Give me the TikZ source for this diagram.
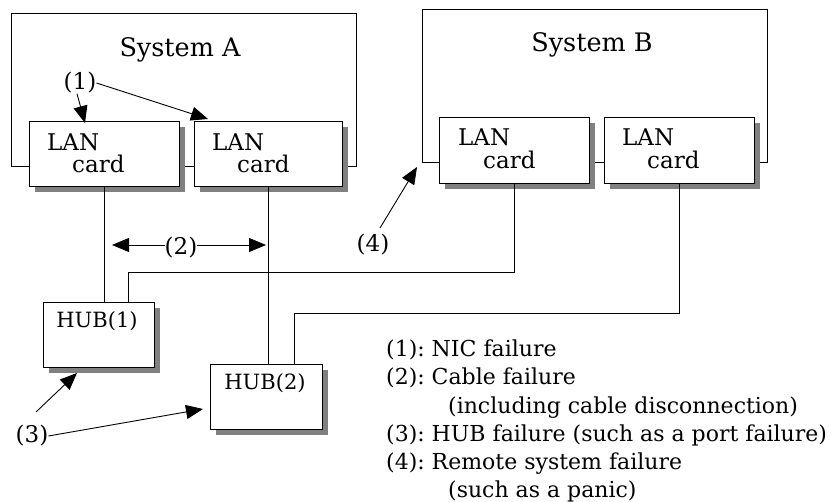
\documentclass[tikz,border=0pt]{standalone}
\usepackage{fontspec}
\setmainfont{DejaVu Serif}
\usetikzlibrary{arrows.meta,shadows}
\frenchspacing
\begin{document}
\begin{tikzpicture}[x=1pt,y=-1pt,
  every node/.style={inner sep=0pt},
  txt/.style={font=\fontsize{21}{26}\selectfont},
  numtxt/.style={font=\fontsize{23}{28}\selectfont},
  cardtxt/.style={font=\fontsize{23}{28}\selectfont,anchor=west},
  systxt/.style={font=\fontsize{25.5}{30}\selectfont},
  sysbox/.style={draw,line width=0.9pt},
  box/.style={draw,fill=white,line width=0.9pt,anchor=north west,
    drop shadow={shadow xshift=5.5pt,shadow yshift=-5.5pt,fill=gray,opacity=1}},
  wire/.style={line width=0.9pt},
  arr/.style={line width=0.9pt,-{Triangle[length=17pt,width=14pt]}}]
\useasboundingbox (0,0) rectangle (831,502);

% systems
\draw[sysbox] (11,13) rectangle (356,166);
\draw[sysbox] (422,9) rectangle (767,162);
\node[systxt] (sysA) at (180,50) {System A};
\node[systxt] (sysB) at (592,45) {System B};

% LAN cards
\node[box,minimum width=150pt,minimum height=65pt] (cA1) at (29,121) {};
\node[box,minimum width=148pt,minimum height=65pt] (cA2) at (194,121) {};
\node[box,minimum width=150pt,minimum height=66pt] (cB1) at (439,117) {};
\node[box,minimum width=150pt,minimum height=66pt] (cB2) at (604,117) {};
\foreach \c/\lx/\ly/\cx/\cy in {cA1/47/142/72/164, cA2/212/142/237/164,
                               cB1/458/137/483/160, cB2/622/137/647/160}{
  \node[cardtxt] (\c-l) at (\lx,\ly) {LAN};
  \node[cardtxt] (\c-c) at (\cx,\cy) {card};
}

% hubs
\node[box,minimum width=111pt,minimum height=65pt] (hub1) at (43,302) {};
\node[box,minimum width=112pt,minimum height=65pt] (hub2) at (210,364) {};
\node[txt] (hub1t) at (97,321) {HUB(1)};
\node[txt] (hub2t) at (265,383) {HUB(2)};

% cabling
\draw[wire] (cA1.south) -- (cA1.south |- hub1.north);
\draw[wire] (cA2.south) -- (cA2.south |- hub2.north);
\coordinate (h1p) at (128,302);
\coordinate (h2p) at (294,364);
\draw[wire] (h1p) |- (cB1.south |- 0,272) -- (cB1.south);
\draw[wire] (h2p) |- (cB2.south |- 0,313) -- (cB2.south);

% failure markers
\node[numtxt] (f1) at (80,83) {(1)};
\coordinate (f1a) at (85,123);
\coordinate (f1b) at (208,119);
\draw[arr] (f1.south) ++(-3,0) -- (f1a);
\draw[arr] (f1.east) -- (f1b);

\node[numtxt] (f2) at (181,248) {(2)};
\coordinate (f2a) at (112,245);
\coordinate (f2b) at (266,245);
\draw[arr] (f2.west) ++(0,-3) -- (f2a);
\draw[arr] (f2.east) ++(0,-3) -- (f2b);

\node[numtxt] (f3) at (32,436) {(3)};
\coordinate (f3a) at (77,373);
\coordinate (f3b) at (203,409);
\draw[arr] (36,412) -- (f3a);
\draw[arr] (f3.east) -- (f3b);

\node[numtxt] (f4) at (373,245) {(4)};
\coordinate (f4a) at (417,167);
\draw[arr] (380,228) -- (f4a);

% legend
\node[anchor=base west,align=left,font=\fontsize{22}{28.3}\selectfont] (legend) at (386,498) {%
(1): NIC failure\\
(2): Cable failure\\
\hspace*{62pt}(including cable disconnection)\\
(3): HUB failure (such as a port failure)\\
(4): Remote system failure\\
\hspace*{62pt}(such as a panic)};
\end{tikzpicture}
\end{document}
